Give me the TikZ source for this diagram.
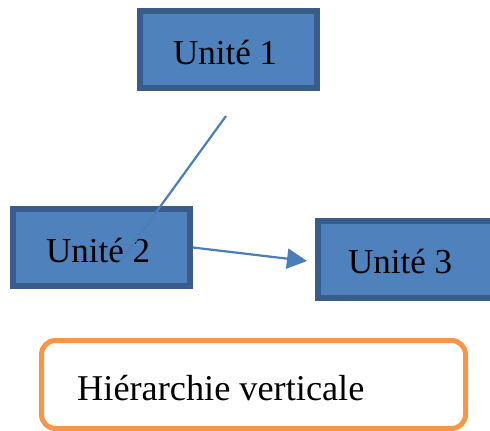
\documentclass[tikz,border=0pt]{standalone}
\usepackage{fontspec}
\setmainfont{Liberation Serif}
\usetikzlibrary{arrows.meta}
\definecolor{boxfill}{HTML}{4F81BD}
\definecolor{boxline}{HTML}{385D8A}
\definecolor{conncol}{HTML}{4A7EBB}
\definecolor{orng}{HTML}{F79646}
\begin{document}
\begin{tikzpicture}[x=1pt,y=-1pt,
  unitbox/.style={draw=boxline,fill=boxfill,line width=6pt,inner sep=0pt,rectangle},
  lbl/.style={inner sep=0pt,anchor=base west,font=\fontsize{35}{40}\selectfont},
  connline/.style={draw=conncol,line width=2.2pt},
  orangebox/.style={draw=orng,line width=5pt,rounded corners=14pt,fill=white,inner sep=0pt,rectangle}]
\useasboundingbox (0,0) rectangle (490,431);
\clip (0,0) rectangle (490,431);
\fill[white] (0,0) rectangle (490,431);
\node[unitbox,minimum width=177pt,minimum height=77pt] (u1) at (228.5,49.5) {};
\node[unitbox,minimum width=177pt,minimum height=77pt] (u2) at (101.5,247.5) {};
\node[unitbox,minimum width=190pt,minimum height=77pt] (u3) at (413,259.5) {};
\node[orangebox,minimum width=424pt,minimum height=88pt] (hb) at (253.5,384.5) {};
\node[lbl] (t1) at (173,64) {Unité 1};
\node[lbl] (t2) at (46,262) {Unité 2};
\node[lbl] (t3) at (348,273) {Unité 3};
\node[lbl,font=\fontsize{36.3}{42}\selectfont] (t4) at (77,400) {Hiérarchie verticale};
\coordinate (c1) at (226,116);
\coordinate (c2) at (120,262);
\draw[connline] (c1) -- (c2);
\draw[connline,-{Triangle[length=20pt,width=20pt]}] (u2.east) -- ([xshift=-8pt,yshift=-1.5pt]u3.west);
\end{tikzpicture}
\end{document}
